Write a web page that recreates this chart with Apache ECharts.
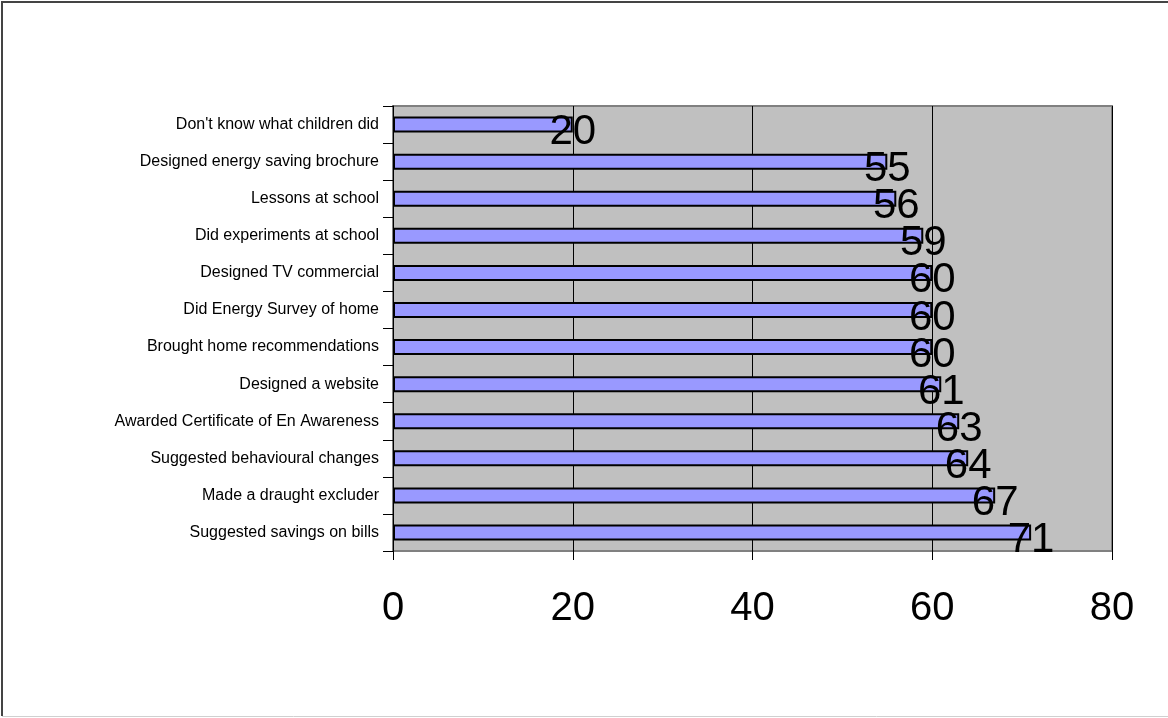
<!DOCTYPE html>
<html>
<head>
<meta charset="utf-8">
<script src="https://cdn.jsdelivr.net/npm/echarts@6/dist/echarts.min.js"></script>
<style>
  html, body { margin: 0; padding: 0; background: #fff; }
  #chart { width: 1168px; height: 718px; }
</style>
</head>
<body>
<div id="chart"></div>
<script>
// categories, top to bottom as shown
var categories = [
    "Don't know what children did",
    'Designed energy saving brochure',
    'Lessons at school',
    'Did experiments at school',
    'Designed TV commercial',
    'Did Energy Survey of home',
    'Brought home recommendations',
    'Designed a website',
    'Awarded Certificate of En Awareness',
    'Suggested behavioural changes',
    'Made a draught excluder',
    'Suggested savings on bills'
];
var values = [20, 55, 56, 59, 60, 60, 60, 61, 63, 64, 67, 71];
var xTicks = [0, 20, 40, 60, 80];

var chart = echarts.init(document.getElementById('chart'));
var option = {
    backgroundColor: '#fff',
    animation: false,
    textStyle: { fontFamily: 'Liberation Sans, Arial, sans-serif' },
    graphic: [
        // frame: dark left/top, light bottom
        {
            type: 'polyline',
            shape: { points: [[2, 716], [2, 2], [1168, 2]] },
            style: { stroke: '#444', lineWidth: 2, fill: 'none' },
            silent: true
        },
        {
            type: 'line',
            shape: { x1: 2, y1: 716.5, x2: 1168, y2: 716.5 },
            style: { stroke: '#d0d0d0', lineWidth: 1 },
            silent: true
        }
    ],
    grid: {
        left: 393,
        right: 56,
        top: 106,
        bottom: 167,
        show: true,
        backgroundColor: '#C0C0C0',
        borderColor: '#808080',
        borderWidth: 2
    },
    xAxis: {
        type: 'value',
        min: xTicks[0],
        max: xTicks[xTicks.length - 1],
        interval: 20,
        axisLine: { show: true, lineStyle: { color: '#808080', width: 1 } },
        axisTick: { show: true, length: 9, lineStyle: { color: '#000' } },
        splitLine: { show: true, lineStyle: { color: '#000', width: 1 } },
        axisLabel: {
            color: '#000',
            fontSize: 40,
            margin: 38,
            fontFamily: 'Liberation Sans, Arial, sans-serif'
        }
    },
    yAxis: {
        type: 'category',
        data: categories,
        inverse: true,
        axisLine: { show: true, lineStyle: { color: '#000', width: 1 } },
        axisTick: { show: true, length: 10, lineStyle: { color: '#000' } },
        axisLabel: {
            color: '#000',
            fontSize: 16,
            margin: 14,
            fontFamily: 'Liberation Sans, Arial, sans-serif'
        }
    },
    series: [
        {
            type: 'bar',
            data: values,
            barWidth: 16,
            itemStyle: {
                color: '#9999FF',
                borderColor: '#000',
                borderWidth: 2
            },
            label: {
                show: true,
                position: ['100%', '50%'],
                align: 'center',
                verticalAlign: 'middle',
                offset: [0, 8],
                color: '#000',
                fontSize: 42,
                fontFamily: 'Liberation Sans, Arial, sans-serif'
            }
        }
    ]
};
chart.setOption(option);
</script>
</body>
</html>
